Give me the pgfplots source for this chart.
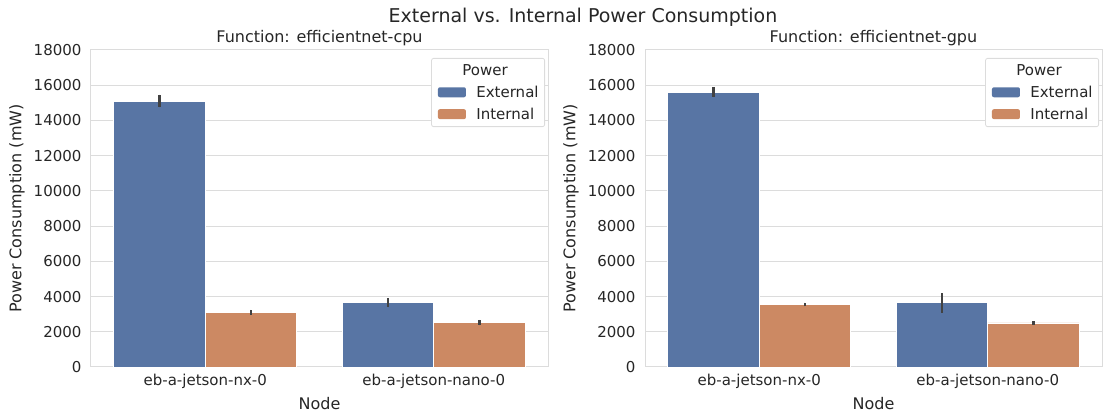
\documentclass[border=0pt]{standalone}
\usepackage{pgfplots}
\pgfplotsset{compat=1.18}
\usepackage{pgfplotstable}
\usepackage{fontspec}
\setmainfont{DejaVu Sans}
\definecolor{sbblue}{HTML}{5875A4}
\definecolor{sborange}{HTML}{CC8963}
\definecolor{sbgrid}{HTML}{DCDCDC}
\definecolor{sbtext}{HTML}{262626}
\definecolor{sberr}{HTML}{424242}

% x  value  err
\pgfplotstableread{
x y e
0 15100 360
1 3640 250
}\cpuext
\pgfplotstableread{
x y e
0 3110 130
1 2520 160
}\cpuint
\pgfplotstableread{
x y e
0 15600 280
1 3640 560
}\gpuext
\pgfplotstableread{
x y e
0 3550 110
1 2500 100
}\gpuint

\pgfplotsset{
  myaxis/.style={
    scale only axis,
    width=457pt, height=317pt,
    anchor=south west,
    ybar, bar width=0.4,
    xmin=-0.5, xmax=1.5,
    ymin=0, ymax=18000,
    xtick={0,1},
    xticklabels={eb-a-jetson-nx-0, eb-a-jetson-nano-0},
    ytick={0,2000,...,18000},
    scaled y ticks=false,
    major tick length=0pt,
    ymajorgrids,
    grid style={sbgrid, line width=1pt},
    axis line style={sbgrid, line width=1pt},
    /pgf/number format/1000 sep={},
    /pgf/number format/assume math mode=true,
    tick label style={font=\fontsize{15}{18}\selectfont, text=sbtext},
    yticklabel style={xshift=-6pt},
    xticklabel style={yshift=-4pt},
    every axis y label/.style={at={(axis description cs:0,0.5)}, xshift=-74pt, rotate=90, anchor=center, font=\fontsize{16}{19}\selectfont, text=sbtext},
    every axis x label/.style={at={(axis description cs:0.5,0)}, yshift=-37pt, anchor=center, font=\fontsize{16}{19}\selectfont, text=sbtext},
    every axis title/.style={at={(axis description cs:0.5,1)}, yshift=12pt, anchor=center, font=\fontsize{16}{19}\selectfont, text=sbtext},
    xlabel={Node},
    ylabel={Power Consumption (mW)},
    legend cell align=left,
    legend image code/.code={\path (-2pt,0pt) -- (36pt,0pt); \draw[##1, draw=none] (0pt,-5pt) rectangle (28pt,5pt);},
    legend style={at={(axis description cs:1,1)}, xshift=-3pt, yshift=-8pt, anchor=north east,
      draw=sbgrid, line width=0.8pt, rounded corners=2pt, fill=white,
      font=\fontsize{15}{18}\selectfont, text=sbtext,
      row sep=5pt, inner xsep=4pt, inner ysep=4pt},
    error bars/y dir=both, error bars/y explicit,
    error bars/error mark=none,
    error bars/error bar style={sberr, line width=2.6pt},
  },
}

\begin{document}
\begin{tikzpicture}
\useasboundingbox (0,0) rectangle (1106pt,414pt);
\node[font=\fontsize{19}{22}\selectfont, text=sbtext] at (583pt,397pt) {External vs. Internal Power Consumption};

\begin{axis}[myaxis, at={(91pt,47pt)}, title={Function: efficientnet-cpu}]
\addlegendimage{empty legend}
\addlegendentry{\hspace*{-14pt}Power}
\addplot[fill=sbblue, draw=white, line width=0.8pt, bar shift=-0.2] table[x=x, y=y, y error=e] {\cpuext};
\addlegendentry{External}
\addplot[fill=sborange, draw=white, line width=0.8pt, bar shift=0.2] table[x=x, y=y, y error=e] {\cpuint};
\addlegendentry{Internal}
\end{axis}

\begin{axis}[myaxis, at={(645pt,47pt)}, title={Function: efficientnet-gpu}]
\addlegendimage{empty legend}
\addlegendentry{\hspace*{-14pt}Power}
\addplot[fill=sbblue, draw=white, line width=0.8pt, bar shift=-0.2] table[x=x, y=y, y error=e] {\gpuext};
\addlegendentry{External}
\addplot[fill=sborange, draw=white, line width=0.8pt, bar shift=0.2] table[x=x, y=y, y error=e] {\gpuint};
\addlegendentry{Internal}
\end{axis}
\end{tikzpicture}
\end{document}
